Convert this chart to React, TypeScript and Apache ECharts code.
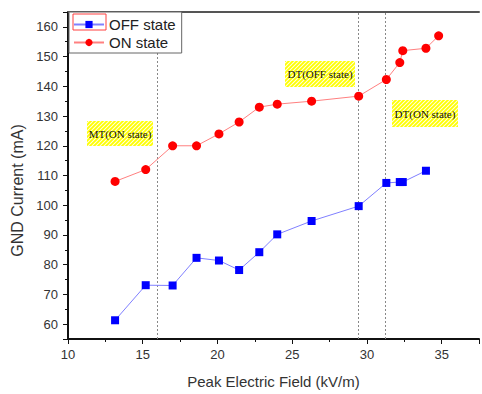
import React, { useEffect, useRef } from "react";
import * as echarts from "echarts";

const fieldOff = [13.15, 15.2, 17.0, 18.6, 20.1, 21.45, 22.8, 24.0, 26.3, 29.45, 31.3, 32.2, 32.4, 33.95];
const currentOff = [61.3, 73.1, 73.0, 82.3, 81.4, 78.2, 84.2, 90.2, 94.7, 99.7, 107.5, 107.8, 107.8, 111.6];
const fieldOn = [13.15, 15.2, 17.0, 18.6, 20.1, 21.45, 22.8, 24.0, 26.3, 29.45, 31.3, 32.2, 32.4, 33.95, 34.8];
const currentOn = [108, 112, 120, 120, 124, 128, 133, 134, 135, 136.7, 142.3, 148, 152, 152.8, 157];
const thresholdLines = [16.0, 29.45, 31.2];
const annotations = ["MT(ON state)", "DT(OFF state)", "DT(ON state)"];

function makeHatch(): HTMLCanvasElement {
  const c = document.createElement("canvas");
  c.width = 4;
  c.height = 4;
  const ctx = c.getContext("2d")!;
  ctx.fillStyle = "#ffffe0";
  ctx.fillRect(0, 0, 4, 4);
  ctx.strokeStyle = "#ffff00";
  ctx.lineWidth = 1.8;
  ctx.beginPath();
  ctx.moveTo(-1, 5);
  ctx.lineTo(5, -1);
  ctx.moveTo(-3, 3);
  ctx.lineTo(3, -3);
  ctx.moveTo(1, 7);
  ctx.lineTo(7, 1);
  ctx.stroke();
  return c;
}

export default function App() {
  const ref = useRef<HTMLDivElement>(null);
  useEffect(() => {
    const chart = echarts.init(ref.current!, null, { renderer: "svg" });
    const hatch = makeHatch();
    const pattern: any = { image: hatch, repeat: "repeat", imageWidth: 4, imageHeight: 4 };
    const box = (x: number, y: number, w: number, h: number, text: string) => ({
      type: "group",
      x,
      y,
      z: 5,
      children: [
        { type: "rect", shape: { x: 0, y: 0, width: w, height: h }, style: { fill: pattern } },
        {
          type: "text",
          x: w / 2,
          y: h / 2,
          style: {
            text,
            fill: "#111",
            font: '11px "Liberation Serif", "Times New Roman", serif',
            align: "center",
            verticalAlign: "middle",
          },
        },
      ],
    });
    const axisLabelStyle = { fontSize: 13, color: "#333", fontFamily: '"Liberation Sans", Arial, sans-serif' };
    chart.setOption({
      animation: false,
      backgroundColor: "#fff",
      textStyle: { fontFamily: '"Liberation Sans", Arial, sans-serif' },
      grid: { left: 68, right: 1, top: 12, bottom: 50, containLabel: false },
      legend: {
        orient: "vertical",
        left: 69,
        top: 12,
        padding: [5, 6, 3, 4],
        itemWidth: 30,
        itemHeight: 9,
        itemGap: 3,
        borderColor: "#666",
        borderWidth: 1,
        backgroundColor: "#fff",
        textStyle: { fontSize: 15, color: "#222" },
        data: ["OFF state", "ON state"],
      },
      xAxis: [
        {
          type: "value",
          min: 10,
          max: 37.5,
          interval: 2.5,
          position: "bottom",
          axisLine: { lineStyle: { color: "#111", width: 2 } },
          axisTick: { length: 3, lineStyle: { color: "#111" } },
          axisLabel: { ...axisLabelStyle, margin: 9, formatter: (v: number) => (v % 5 === 0 && v < 37 ? String(v) : "") },
          splitLine: { show: false },
          name: "Peak Electric Field (kV/m)",
          nameLocation: "middle",
          nameGap: 35,
          nameTextStyle: { fontSize: 15, color: "#333" },
        },
        {
          type: "value",
          min: 10,
          max: 37.5,
          interval: 5,
          position: "bottom",
          axisLine: { show: false },
          axisTick: { length: 5, lineStyle: { color: "#111" } },
          axisLabel: { show: false },
          splitLine: { show: false },
        },
        {
          type: "value",
          min: 10,
          max: 37.5,
          position: "top",
          axisLine: { lineStyle: { color: "#555", width: 2 } },
          axisTick: { show: false },
          axisLabel: { show: false },
          splitLine: { show: false },
        },
      ],
      yAxis: [
        {
          type: "value",
          min: 55,
          max: 165,
          interval: 5,
          position: "left",
          axisLine: { show: true, lineStyle: { color: "#111", width: 2 } },
          axisTick: { show: true, length: 3, lineStyle: { color: "#111" } },
          axisLabel: { ...axisLabelStyle, margin: 10, formatter: (v: number) => (v % 10 === 0 ? String(v) : "") },
          splitLine: { show: false },
          name: "GND Current (mA)",
          nameLocation: "middle",
          nameGap: 36,
          nameTextStyle: { fontSize: 16, color: "#333", padding: [0, 30, 0, 0] },
        },
        {
          type: "value",
          min: 55,
          max: 165,
          splitNumber: 11,
          position: "left",
          axisLine: { show: false },
          axisTick: { show: true, length: 5, lineStyle: { color: "#111" } },
          axisLabel: { show: false },
          splitLine: { show: false },
        },
      ],
      series: [
        {
          name: "OFF state",
          type: "line",
          xAxisIndex: 0,
          yAxisIndex: 0,
          data: fieldOff.map((x, i) => [x, currentOff[i]]),
          symbol: "rect",
          symbolSize: 8,
          itemStyle: { color: "#0000ff" },
          lineStyle: { color: "#8080ff", width: 1 },
          z: 3,
        },
        {
          name: "ON state",
          type: "line",
          xAxisIndex: 0,
          yAxisIndex: 0,
          data: fieldOn.map((x, i) => [x, currentOn[i]]),
          symbol: "circle",
          symbolSize: 9,
          itemStyle: { color: "#ff0000" },
          lineStyle: { color: "#ff8080", width: 1 },
          z: 3,
          markLine: {
            silent: true,
            symbol: "none",
            label: { show: false },
            lineStyle: { color: "#888", width: 1, type: [2, 2] },
            data: thresholdLines.map((v) => ({ xAxis: v })),
            z: 1,
          },
        },
      ],
      graphic: [
        box(87, 121, 66, 25, annotations[0]),
        box(285, 61, 70, 26, annotations[1]),
        box(392, 100, 66, 27, annotations[2]),
        {
          type: "rect",
          z: 10,
          shape: { x: 73, y: 14, width: 33, height: 16 },
          style: { fill: "none", stroke: "#ff4040", lineWidth: 1 },
        },
      ],
    });
    return () => chart.dispose();
  }, []);
  return <div ref={ref} style={{ position: "fixed", left: 0, top: 0, width: 482, height: 394 }} />;
}
